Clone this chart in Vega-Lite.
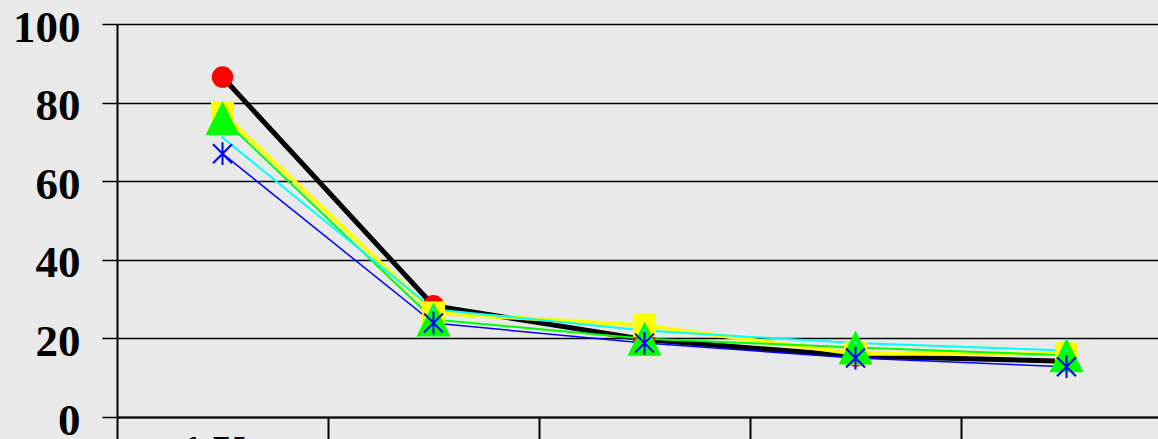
{
  "$schema": "https://vega.github.io/schema/vega-lite/v6.json",
  "autosize": {"type": "none"},
  "width": 1041,
  "height": 393,
  "padding": {"left": 117, "top": 24, "right": 0, "bottom": 22},
  "background": "#e9e9e9",
  "config": {"view": {"stroke": null}},
  "data": {
    "values": [
      {"series": "S1", "period": "1 Yr", "value": 86.5},
      {"series": "S1", "period": "2 Yr", "value": 28.3},
      {"series": "S1", "period": "3 Yr", "value": 19.7},
      {"series": "S1", "period": "4 Yr", "value": 15.5},
      {"series": "S1", "period": "5 Yr", "value": 14.2},
      {"series": "S2", "period": "1 Yr", "value": 77.3},
      {"series": "S2", "period": "2 Yr", "value": 26.5},
      {"series": "S2", "period": "3 Yr", "value": 23.3},
      {"series": "S2", "period": "4 Yr", "value": 16.1},
      {"series": "S2", "period": "5 Yr", "value": 16.1},
      {"series": "S3", "period": "1 Yr", "value": 76.0},
      {"series": "S3", "period": "2 Yr", "value": 24.8},
      {"series": "S3", "period": "3 Yr", "value": 19.9},
      {"series": "S3", "period": "4 Yr", "value": 17.7},
      {"series": "S3", "period": "5 Yr", "value": 15.7},
      {"series": "S4", "period": "1 Yr", "value": 71.1},
      {"series": "S4", "period": "2 Yr", "value": 27.4},
      {"series": "S4", "period": "3 Yr", "value": 22.0},
      {"series": "S4", "period": "4 Yr", "value": 18.8},
      {"series": "S4", "period": "5 Yr", "value": 16.9},
      {"series": "S5", "period": "1 Yr", "value": 67.0},
      {"series": "S5", "period": "2 Yr", "value": 23.9},
      {"series": "S5", "period": "3 Yr", "value": 18.8},
      {"series": "S5", "period": "4 Yr", "value": 15.0},
      {"series": "S5", "period": "5 Yr", "value": 12.8}
    ]
  },
  "encoding": {
    "x": {
      "field": "period",
      "type": "nominal",
      "sort": ["1 Yr", "2 Yr", "3 Yr", "4 Yr", "5 Yr"],
      "scale": {"type": "band", "paddingInner": 0, "paddingOuter": 0, "range": [0, 1055]},
      "axis": {
        "title": null,
        "grid": false,
        "domainColor": "black",
        "domainWidth": 2,
        "tickColor": "black",
        "tickWidth": 2,
        "tickSize": 30,
        "tickBand": "extent",
        "labelFont": "Liberation Serif",
        "labelFontWeight": "bold",
        "labelFontSize": 45,
        "labelColor": "black",
        "labelAngle": 0,
        "labelPadding": -18,
        "labelFlush": false,
        "labelOverlap": false,
        "labelExpr": "datum.index == 0 ? datum.label : ''"
      }
    },
    "y": {
      "field": "value",
      "type": "quantitative",
      "scale": {"domain": [0, 100]},
      "axis": {
        "title": null,
        "values": [0, 20, 40, 60, 80, 100],
        "grid": true,
        "gridColor": "black",
        "gridWidth": 1.5,
        "gridOpacity": 1,
        "domainColor": "black",
        "domainWidth": 2,
        "tickColor": "black",
        "tickWidth": 1.5,
        "tickSize": 15,
        "labelFont": "Liberation Serif",
        "labelFontWeight": "bold",
        "labelFontSize": 45,
        "labelColor": "black",
        "labelPadding": 22,
        "labelOffset": 3
      }
    }
  },
  "layer": [
    {
      "mark": {"type": "line"},
      "encoding": {
        "stroke": {
          "field": "series",
          "type": "nominal",
          "scale": {"domain": ["S1", "S2", "S3", "S4", "S5"], "range": ["#000000", "#ffff00", "#00ff00", "#00ffff", "#0000ff"]},
          "legend": null
        },
        "strokeWidth": {
          "field": "series",
          "type": "nominal",
          "scale": {"type": "ordinal", "domain": ["S1", "S2", "S3", "S4", "S5"], "range": [5, 4, 2, 2, 1.5]},
          "legend": null
        }
      }
    },
    {
      "transform": [{"filter": "datum.series == 'S1' || datum.series == 'S2' || datum.series == 'S3'"}],
      "mark": {"type": "point", "filled": true, "opacity": 1},
      "encoding": {
        "fill": {
          "field": "series",
          "type": "nominal",
          "scale": {"domain": ["S1", "S2", "S3"], "range": ["#ff0000", "#ffff00", "#00ff00"]},
          "legend": null
        },
        "shape": {
          "field": "series",
          "type": "nominal",
          "scale": {"domain": ["S1", "S2", "S3", "S4", "S5"], "range": ["circle", "square", "M0,-1L1,1L-1,1Z", "M-1,-1L1,1M-1,1L1,-1", "M-1,-1L1,1M-1,1L1,-1M0,-1.2L0,1.2"]},
          "legend": null
        },
        "size": {
          "field": "series",
          "type": "nominal",
          "scale": {"type": "ordinal", "domain": ["S1", "S2", "S3", "S4", "S5"], "range": [460, 529, 1156, 144, 144]},
          "legend": null
        }
      }
    },
    {
      "transform": [{"filter": "datum.series == 'S4' || datum.series == 'S5'"}],
      "mark": {"type": "point", "filled": false, "opacity": 1, "strokeWidth": 2},
      "encoding": {
        "stroke": {"field": "series", "type": "nominal", "legend": null},
        "shape": {"field": "series", "type": "nominal", "legend": null},
        "size": {"field": "series", "type": "nominal", "legend": null}
      }
    }
  ]
}
